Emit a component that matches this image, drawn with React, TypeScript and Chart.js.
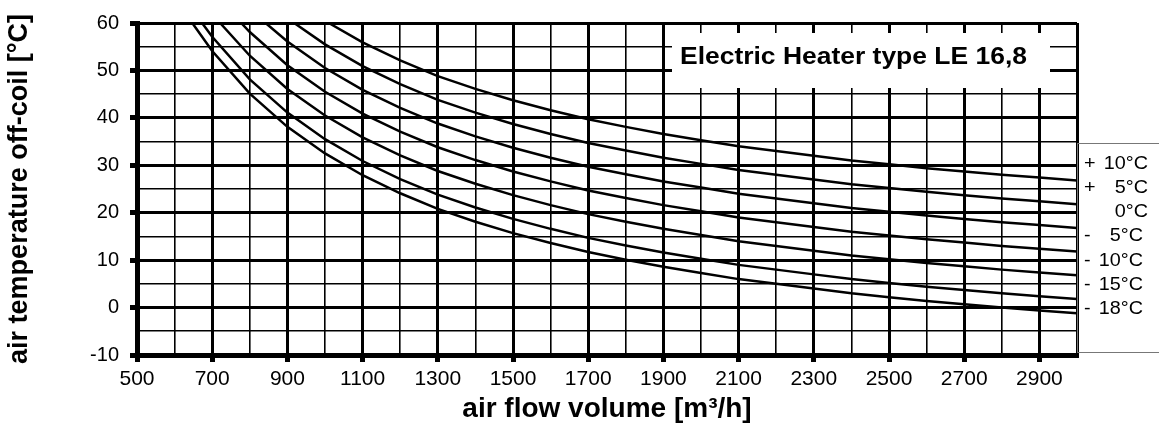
import { useEffect, useRef } from "react";
import { Chart, registerables } from "chart.js";

Chart.register(...registerables);

// air flow volume [m³/h]
const flowRates = [
  700, 800, 900, 1000, 1100, 1200, 1300, 1400, 1500, 1600, 1700, 1800,
  1900, 2000, 2100, 2200, 2300, 2400, 2500, 2600, 2700, 2800, 2900, 3000,
];

// flow at which each curve leaves the top of the chart (60 °C)
const startFlows = [1010, 918, 842, 777, 721, 673, 647];
const topTemp = 60;

// off-coil temperature for each inlet temperature
const tPlus10 = [null, null, null, null, 55.9, 52.1, 48.8, 46.1, 43.7, 41.6, 39.7, 38.1, 36.6, 35.3, 34.0, 33.0, 32.0, 31.0, 30.2, 29.4, 28.7, 28.0, 27.4, 26.8];
const tPlus5 = [null, null, null, 55.5, 50.9, 47.1, 43.8, 41.1, 38.7, 36.6, 34.7, 33.1, 31.6, 30.3, 29.0, 28.0, 27.0, 26.0, 25.2, 24.4, 23.7, 23.0, 22.4, 21.8];
const tZero = [null, null, 56.1, 50.5, 45.9, 42.1, 38.8, 36.1, 33.7, 31.6, 29.7, 28.1, 26.6, 25.3, 24.0, 23.0, 22.0, 21.0, 20.2, 19.4, 18.7, 18.0, 17.4, 16.8];
const tMinus5 = [null, 58.1, 51.1, 45.5, 40.9, 37.1, 33.8, 31.1, 28.7, 26.6, 24.7, 23.1, 21.6, 20.3, 19.0, 18.0, 17.0, 16.0, 15.2, 14.4, 13.7, 13.0, 12.4, 11.8];
const tMinus10 = [null, 53.1, 46.1, 40.5, 35.9, 32.1, 28.8, 26.1, 23.7, 21.6, 19.7, 18.1, 16.6, 15.3, 14.0, 13.0, 12.0, 11.0, 10.2, 9.4, 8.7, 8.0, 7.4, 6.8];
const tMinus15 = [57.1, 48.1, 41.1, 35.5, 30.9, 27.1, 23.8, 21.1, 18.7, 16.6, 14.7, 13.1, 11.6, 10.3, 9.0, 8.0, 7.0, 6.0, 5.2, 4.4, 3.7, 3.0, 2.4, 1.8];
const tMinus18 = [54.1, 45.1, 38.1, 32.5, 27.9, 24.1, 20.8, 18.1, 15.7, 13.6, 11.7, 10.1, 8.6, 7.3, 6.0, 5.0, 4.0, 3.0, 2.2, 1.4, 0.7, 0.0, -0.6, -1.2];

const seriesTemps = [tPlus10, tPlus5, tZero, tMinus5, tMinus10, tMinus15, tMinus18];
const seriesNames = ["+ 10°C", "+ 5°C", "0°C", "- 5°C", "- 10°C", "- 15°C", "- 18°C"];

// legend labels at the right side
const legendSigns = ["+", "+", "", "-", "-", "-", "-"];
const legendValues = ["10°C", "5°C", "0°C", "5°C", "10°C", "15°C", "18°C"];

const chartTitle = "Electric Heater type LE 16,8";
const xTitle = "air flow volume [m³/h]";
const yTitle = "air temperature off-coil [°C]";

const xMin = 500;
const xMax = 3000;
const xStep = 100;
const xLabelStep = 200;
const yMin = -10;
const yMax = 60;
const yStep = 5;
const yLabelStep = 10;

const FONT = "'Liberation Sans', Arial, sans-serif";

function stretchedText(ctx: CanvasRenderingContext2D, text: string, x: number, y: number, align: CanvasTextAlign, sx: number) {
  ctx.save();
  ctx.translate(x, y);
  ctx.scale(sx, 1);
  ctx.textAlign = align;
  ctx.textBaseline = "alphabetic";
  ctx.fillText(text, 0, 0);
  ctx.restore();
}

const decorPlugin = {
  id: "decor",
  beforeDatasetsDraw(chart: any) {
    const { ctx, chartArea } = chart;
    // title box covering the grid
    ctx.save();
    ctx.fillStyle = "#fff";
    const bx = chartArea.right - 405;
    ctx.fillRect(bx, 33, 378, 55);
    ctx.fillStyle = "#000";
    ctx.font = `bold 23px ${FONT}`;
    stretchedText(ctx, chartTitle, bx + 8, 63.5, "left", 1.15);
    ctx.restore();
  },
  afterDraw(chart: any) {
    const { ctx, chartArea, width } = chart;
    ctx.save();
    // legend box
    ctx.strokeStyle = "#777";
    ctx.lineWidth = 1;
    ctx.strokeRect(chartArea.right + 0.5, 143.5, width + 10 - chartArea.right, 209);
    ctx.fillStyle = "#000";
    ctx.font = `18px ${FONT}`;
    const left = chartArea.right + 7;
    for (let i = 0; i < legendValues.length; i++) {
      const y = 168.5 + i * 24.3;
      if (legendSigns[i]) stretchedText(ctx, legendSigns[i], left, y, "left", 1.1);
      const rightEdge = legendSigns[i] === "-" ? chartArea.right + 66 : chartArea.right + 71;
      stretchedText(ctx, legendValues[i], rightEdge, y, "right", 1.1);
    }
    ctx.restore();
  },
};

export default function App() {
  const canvasRef = useRef<HTMLCanvasElement | null>(null);

  useEffect(() => {
    document.body.style.margin = "0";
    const canvas = canvasRef.current;
    if (!canvas) return;

    const datasets = seriesTemps.map((temps, i) => {
      const pts: { x: number; y: number }[] = [{ x: startFlows[i], y: topTemp }];
      flowRates.forEach((f, j) => {
        const t = temps[j];
        if (t !== null && t !== undefined) pts.push({ x: f, y: t });
      });
      return {
        label: seriesNames[i],
        data: pts,
        borderColor: "#000",
        borderWidth: 2.5,
        pointRadius: 0,
        fill: false,
        tension: 0,
      };
    });

    const chart = new Chart(canvas, {
      type: "line",
      data: { datasets },
      options: {
        animation: false,
        responsive: false,
        parsing: false as any,
        layout: { padding: { top: 17, right: 82, left: 0, bottom: 0 } },
        plugins: {
          legend: { display: false },
          tooltip: { enabled: false },
          title: { display: false },
        },
        scales: {
          x: {
            type: "linear",
            min: xMin,
            max: xMax,
            afterFit: (s: any) => {
              s.height = 70;
            },
            ticks: {
              stepSize: xStep,
              autoSkip: false,
              maxRotation: 0,
              padding: 5,
              color: "#000",
              font: { family: FONT, size: 21 },
              callback: (v: any) => ((Number(v) - xMin) % xLabelStep === 0 && Number(v) < xMax ? String(v) : ""),
            },
            grid: {
              color: "#000",
              lineWidth: (c: any) => {
                const v = c.tick ? c.tick.value : 0;
                return (v - xMin) % xLabelStep === 0 || v === xMax ? 3 : 1.6;
              },
              tickLength: 7,
              tickWidth: 5,
              tickColor: (c: any) => {
                const v = c.tick ? c.tick.value : 0;
                return (v - xMin) % xLabelStep === 0 && v < xMax ? "#000" : "rgba(0,0,0,0)";
              },
            },
            border: { display: true, color: "#000", width: 5 },
            title: {
              display: true,
              text: xTitle,
              color: "#000",
              font: { family: FONT, size: 28, weight: "bold", lineHeight: 1 },
              padding: { top: 0, bottom: 2 },
            },
          },
          y: {
            type: "linear",
            min: yMin,
            max: yMax,
            afterFit: (s: any) => {
              s.width = 137;
            },
            ticks: {
              stepSize: yStep,
              autoSkip: false,
              padding: 11,
              color: "#000",
              font: { family: FONT, size: 20 },
              callback: (v: any) => (Number(v) % yLabelStep === 0 ? String(v) : ""),
            },
            grid: {
              color: "#000",
              lineWidth: (c: any) => {
                const v = c.tick ? c.tick.value : 0;
                return v % yLabelStep === 0 ? 3 : 1.6;
              },
              tickLength: 7,
              tickWidth: 5,
              tickColor: (c: any) => {
                const v = c.tick ? c.tick.value : 0;
                return v % yLabelStep === 0 ? "#000" : "rgba(0,0,0,0)";
              },
            },
            border: { display: true, color: "#000", width: 5 },
            title: {
              display: true,
              text: yTitle,
              color: "#000",
              font: { family: FONT, size: 27, weight: "bold", lineHeight: 1 },
              padding: { top: 6, bottom: 0 },
            },
          },
        },
      },
      plugins: [decorPlugin],
    });

    return () => chart.destroy();
  }, []);

  return (
    <div style={{ width: 1159, height: 425 }}>
      <canvas ref={canvasRef} width={1159} height={425} style={{ display: "block" }} />
    </div>
  );
}
